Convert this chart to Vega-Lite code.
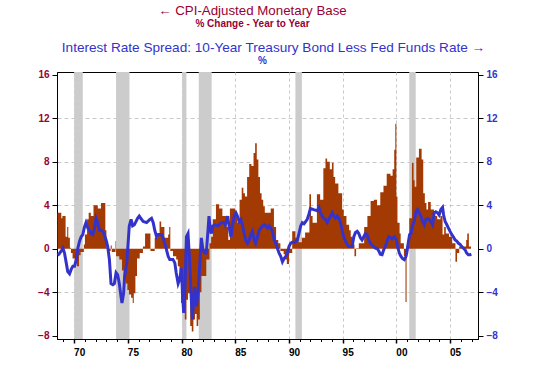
{
  "$schema": "https://vega.github.io/schema/vega-lite/v6.json",
  "autosize": "none",
  "width": 421,
  "height": 267,
  "padding": {"left": 57, "top": 72, "right": 57, "bottom": 32},
  "background": "white",
  "config": {
    "font": "Liberation Sans",
    "view": {"stroke": "black", "strokeWidth": 1},
    "axis": {"domainColor": "black", "tickColor": "black", "labelFont": "Liberation Sans", "titleFont": "Liberation Sans"}
  },
  "title": {
    "text": "← CPI-Adjusted Monetary Base",
    "subtitle": "% Change - Year to Year",
    "anchor": "middle",
    "frame": "group",
    "dx": -15,
    "offset": 11,
    "font": "Liberation Sans",
    "fontSize": 13.3,
    "fontWeight": "normal",
    "color": "#990033",
    "subtitleFont": "Liberation Sans",
    "subtitleFontSize": 10,
    "subtitleFontWeight": "bold",
    "subtitleColor": "#990033",
    "subtitlePadding": 2
  },
  "datasets": {
    "recessions": [
      {"s": 1970.0, "e": 1970.8},
      {"s": 1973.9, "e": 1975.15},
      {"s": 1980.05, "e": 1980.45},
      {"s": 1981.6, "e": 1982.8},
      {"s": 1990.6, "e": 1991.2},
      {"s": 2001.2, "e": 2001.8}
    ],
    "base": [
      {"s": 1968.45, "e": 1968.8, "v": 3.3},
      {"s": 1968.8, "e": 1968.9, "v": 2.8},
      {"s": 1968.9, "e": 1969.2, "v": 3.0},
      {"s": 1969.2, "e": 1969.35, "v": 1.1},
      {"s": 1969.35, "e": 1969.45, "v": 2.0},
      {"s": 1969.45, "e": 1969.6, "v": 1.0},
      {"s": 1969.6, "e": 1969.7, "v": 0.1},
      {"s": 1969.7, "e": 1969.85, "v": -0.4},
      {"s": 1969.85, "e": 1970.1, "v": -0.9},
      {"s": 1970.1, "e": 1970.25, "v": -1.2},
      {"s": 1970.25, "e": 1970.45, "v": -1.6},
      {"s": 1970.45, "e": 1970.6, "v": -0.6},
      {"s": 1970.6, "e": 1970.9, "v": -0.3},
      {"s": 1970.9, "e": 1971.0, "v": 0.4},
      {"s": 1971.0, "e": 1971.2, "v": 1.3},
      {"s": 1971.2, "e": 1971.35, "v": 2.7},
      {"s": 1971.35, "e": 1971.55, "v": 3.3},
      {"s": 1971.55, "e": 1971.8, "v": 3.0},
      {"s": 1971.8, "e": 1972.2, "v": 4.0},
      {"s": 1972.2, "e": 1972.5, "v": 3.7},
      {"s": 1972.5, "e": 1972.9, "v": 4.2},
      {"s": 1972.9, "e": 1973.0, "v": 1.7},
      {"s": 1973.0, "e": 1973.2, "v": 0.1},
      {"s": 1973.2, "e": 1973.4, "v": -0.2},
      {"s": 1973.4, "e": 1973.5, "v": 0.3},
      {"s": 1973.5, "e": 1973.85, "v": -0.3},
      {"s": 1973.85, "e": 1973.9, "v": 0.7},
      {"s": 1973.9, "e": 1974.2, "v": -0.7},
      {"s": 1974.2, "e": 1974.45, "v": -1.0},
      {"s": 1974.45, "e": 1974.6, "v": -2.0},
      {"s": 1974.6, "e": 1974.8, "v": -2.6},
      {"s": 1974.8, "e": 1974.95, "v": -3.2},
      {"s": 1974.95, "e": 1975.1, "v": -3.8},
      {"s": 1975.1, "e": 1975.3, "v": -4.2},
      {"s": 1975.3, "e": 1975.45, "v": -4.5},
      {"s": 1975.45, "e": 1975.55, "v": -5.0},
      {"s": 1975.55, "e": 1975.7, "v": -4.1},
      {"s": 1975.7, "e": 1975.85, "v": -2.5},
      {"s": 1975.85, "e": 1976.1, "v": -0.9},
      {"s": 1976.1, "e": 1976.4, "v": -0.4},
      {"s": 1976.4, "e": 1976.6, "v": 0.2},
      {"s": 1976.6, "e": 1977.1, "v": 1.4},
      {"s": 1977.1, "e": 1977.5, "v": -0.2},
      {"s": 1977.5, "e": 1977.8, "v": 1.0},
      {"s": 1977.8, "e": 1977.95, "v": 1.3},
      {"s": 1977.95, "e": 1978.1, "v": 2.5},
      {"s": 1978.1, "e": 1978.4, "v": 2.0},
      {"s": 1978.4, "e": 1978.75, "v": 1.0},
      {"s": 1978.75, "e": 1978.85, "v": 1.3},
      {"s": 1978.85, "e": 1978.95, "v": 2.0},
      {"s": 1978.95, "e": 1979.2, "v": -0.2},
      {"s": 1979.2, "e": 1979.5, "v": -0.7},
      {"s": 1979.5, "e": 1979.65, "v": -1.0},
      {"s": 1979.65, "e": 1979.8, "v": -1.6},
      {"s": 1979.8, "e": 1979.95, "v": -2.5},
      {"s": 1979.95, "e": 1980.1, "v": -5.0},
      {"s": 1980.1, "e": 1980.3, "v": -5.8},
      {"s": 1980.3, "e": 1980.45, "v": -6.5},
      {"s": 1980.45, "e": 1980.6, "v": -4.7},
      {"s": 1980.6, "e": 1980.8, "v": -4.1},
      {"s": 1980.8, "e": 1980.95, "v": -7.1},
      {"s": 1980.95, "e": 1981.1, "v": -7.6},
      {"s": 1981.1, "e": 1981.25, "v": -6.5},
      {"s": 1981.25, "e": 1981.4, "v": -6.0},
      {"s": 1981.4, "e": 1981.55, "v": -7.1},
      {"s": 1981.55, "e": 1981.7, "v": -6.5},
      {"s": 1981.7, "e": 1981.85, "v": -4.0},
      {"s": 1981.85, "e": 1982.3, "v": -2.5},
      {"s": 1982.3, "e": 1982.6, "v": -1.0},
      {"s": 1982.6, "e": 1982.75, "v": 0.5},
      {"s": 1982.75, "e": 1982.9, "v": 1.1},
      {"s": 1982.9, "e": 1983.2, "v": 2.7},
      {"s": 1983.2, "e": 1983.5, "v": 4.1},
      {"s": 1983.5, "e": 1983.8, "v": 3.7},
      {"s": 1983.8, "e": 1984.2, "v": 3.0},
      {"s": 1984.2, "e": 1984.35, "v": 2.0},
      {"s": 1984.35, "e": 1984.5, "v": 0.8},
      {"s": 1984.5, "e": 1985.0, "v": 3.7},
      {"s": 1985.0, "e": 1985.2, "v": 3.0},
      {"s": 1985.2, "e": 1985.4, "v": 2.4},
      {"s": 1985.4, "e": 1985.6, "v": 4.5},
      {"s": 1985.6, "e": 1985.75, "v": 5.6},
      {"s": 1985.75, "e": 1985.9, "v": 5.1},
      {"s": 1985.9, "e": 1986.1, "v": 4.8},
      {"s": 1986.1, "e": 1986.3, "v": 6.6},
      {"s": 1986.3, "e": 1986.5, "v": 7.8},
      {"s": 1986.5, "e": 1986.7, "v": 7.6},
      {"s": 1986.7, "e": 1986.85, "v": 8.8},
      {"s": 1986.85, "e": 1987.0, "v": 9.7},
      {"s": 1987.0, "e": 1987.15, "v": 8.2},
      {"s": 1987.15, "e": 1987.3, "v": 6.6},
      {"s": 1987.3, "e": 1987.45, "v": 5.1},
      {"s": 1987.45, "e": 1987.6, "v": 4.5},
      {"s": 1987.6, "e": 1987.75, "v": 3.9},
      {"s": 1987.75, "e": 1988.3, "v": 3.3},
      {"s": 1988.3, "e": 1988.6, "v": 3.7},
      {"s": 1988.6, "e": 1988.8, "v": 2.0},
      {"s": 1988.8, "e": 1989.0, "v": 0.8},
      {"s": 1989.0, "e": 1989.2, "v": 0.5},
      {"s": 1989.2, "e": 1989.5, "v": -0.2},
      {"s": 1989.5, "e": 1989.65, "v": -0.5},
      {"s": 1989.65, "e": 1989.8, "v": -1.0},
      {"s": 1989.8, "e": 1990.0, "v": -1.4},
      {"s": 1990.0, "e": 1990.3, "v": -0.4},
      {"s": 1990.3, "e": 1990.6, "v": 1.6},
      {"s": 1990.6, "e": 1990.9, "v": 1.0},
      {"s": 1990.9, "e": 1991.2, "v": 0.6},
      {"s": 1991.2, "e": 1991.5, "v": 1.0},
      {"s": 1991.5, "e": 1991.9, "v": 1.5},
      {"s": 1991.9, "e": 1992.05, "v": 5.0},
      {"s": 1992.05, "e": 1992.2, "v": 3.0},
      {"s": 1992.2, "e": 1992.6, "v": 2.4},
      {"s": 1992.6, "e": 1992.9, "v": 5.0},
      {"s": 1992.9, "e": 1993.2, "v": 4.5},
      {"s": 1993.2, "e": 1993.4, "v": 7.4},
      {"s": 1993.4, "e": 1993.55, "v": 8.3},
      {"s": 1993.55, "e": 1993.8, "v": 8.0},
      {"s": 1993.8, "e": 1994.0, "v": 7.3},
      {"s": 1994.0, "e": 1994.15, "v": 7.9},
      {"s": 1994.15, "e": 1994.3, "v": 6.6},
      {"s": 1994.3, "e": 1994.6, "v": 6.0},
      {"s": 1994.6, "e": 1994.95, "v": 5.1},
      {"s": 1994.95, "e": 1995.1, "v": 3.6},
      {"s": 1995.1, "e": 1995.35, "v": 3.0},
      {"s": 1995.35, "e": 1995.6, "v": 2.2},
      {"s": 1995.6, "e": 1995.75, "v": 1.7},
      {"s": 1995.75, "e": 1995.9, "v": 1.1},
      {"s": 1995.9, "e": 1996.1, "v": 0.4},
      {"s": 1996.1, "e": 1996.25, "v": -0.7},
      {"s": 1996.25, "e": 1996.5, "v": 0.05},
      {"s": 1996.5, "e": 1997.0, "v": 0.5},
      {"s": 1997.0, "e": 1997.3, "v": 2.0},
      {"s": 1997.3, "e": 1997.6, "v": 3.0},
      {"s": 1997.6, "e": 1997.9, "v": 4.4},
      {"s": 1997.9, "e": 1998.2, "v": 4.5},
      {"s": 1998.2, "e": 1998.5, "v": 4.0},
      {"s": 1998.5, "e": 1998.8, "v": 5.2},
      {"s": 1998.8, "e": 1999.1, "v": 5.8},
      {"s": 1999.1, "e": 1999.45, "v": 6.9},
      {"s": 1999.45, "e": 1999.65, "v": 6.7},
      {"s": 1999.65, "e": 1999.8, "v": 7.3},
      {"s": 1999.8, "e": 1999.9, "v": 9.1},
      {"s": 1999.9, "e": 2000.0, "v": 11.5},
      {"s": 2000.0, "e": 2000.1, "v": 4.8},
      {"s": 2000.1, "e": 2000.3, "v": 2.4},
      {"s": 2000.3, "e": 2000.4, "v": 1.4},
      {"s": 2000.4, "e": 2000.7, "v": 0.5},
      {"s": 2000.7, "e": 2000.85, "v": -0.7},
      {"s": 2000.85, "e": 2000.95, "v": -4.9},
      {"s": 2000.95, "e": 2001.2, "v": 0.3},
      {"s": 2001.2, "e": 2001.45, "v": 2.8},
      {"s": 2001.45, "e": 2001.6, "v": 7.9},
      {"s": 2001.6, "e": 2001.7, "v": 6.3},
      {"s": 2001.7, "e": 2001.85, "v": 5.7},
      {"s": 2001.85, "e": 2002.1, "v": 8.4},
      {"s": 2002.1, "e": 2002.35, "v": 9.2},
      {"s": 2002.35, "e": 2002.5, "v": 8.2},
      {"s": 2002.5, "e": 2002.65, "v": 5.1},
      {"s": 2002.65, "e": 2002.8, "v": 4.2},
      {"s": 2002.8, "e": 2002.95, "v": 3.6},
      {"s": 2002.95, "e": 2003.2, "v": 4.3},
      {"s": 2003.2, "e": 2003.5, "v": 3.6},
      {"s": 2003.5, "e": 2003.8, "v": 3.0},
      {"s": 2003.8, "e": 2004.1, "v": 2.7},
      {"s": 2004.1, "e": 2004.3, "v": 3.0},
      {"s": 2004.3, "e": 2004.45, "v": 1.3},
      {"s": 2004.45, "e": 2004.6, "v": 2.0},
      {"s": 2004.6, "e": 2004.9, "v": 1.4},
      {"s": 2004.9, "e": 2005.2, "v": 1.1},
      {"s": 2005.2, "e": 2005.5, "v": 0.5},
      {"s": 2005.5, "e": 2005.65, "v": -1.2},
      {"s": 2005.65, "e": 2005.85, "v": -0.4},
      {"s": 2005.85, "e": 2006.5, "v": 0.2},
      {"s": 2006.5, "e": 2006.6, "v": 0.8},
      {"s": 2006.6, "e": 2006.75, "v": 1.4},
      {"s": 2006.75, "e": 2006.95, "v": 0.2}
    ],
    "spread": [
      {"t": 1968.45, "r": -0.6}, {"t": 1968.58, "r": -0.5}, {"t": 1968.8, "r": -0.2}, {"t": 1968.95, "r": 0.05},
      {"t": 1969.1, "r": -0.4}, {"t": 1969.26, "r": -1.3}, {"t": 1969.4, "r": -2.1}, {"t": 1969.57, "r": -2.3},
      {"t": 1969.72, "r": -1.9}, {"t": 1969.88, "r": -1.6}, {"t": 1970.03, "r": -1.6}, {"t": 1970.2, "r": -1.0},
      {"t": 1970.34, "r": 0.05}, {"t": 1970.5, "r": 0.7}, {"t": 1970.65, "r": 1.1}, {"t": 1970.8, "r": 1.3},
      {"t": 1970.96, "r": 2.0}, {"t": 1971.1, "r": 2.4}, {"t": 1971.27, "r": 1.9}, {"t": 1971.42, "r": 1.7},
      {"t": 1971.58, "r": 1.4}, {"t": 1971.73, "r": 1.3}, {"t": 1971.9, "r": 1.9}, {"t": 1972.04, "r": 2.8},
      {"t": 1972.2, "r": 2.4}, {"t": 1972.35, "r": 1.7}, {"t": 1972.5, "r": 1.7}, {"t": 1972.66, "r": 1.6},
      {"t": 1972.8, "r": 1.3}, {"t": 1972.97, "r": 0.8}, {"t": 1973.12, "r": 0.2}, {"t": 1973.28, "r": -1.0},
      {"t": 1973.43, "r": -3.2}, {"t": 1973.6, "r": -3.3}, {"t": 1973.74, "r": -3.2}, {"t": 1973.9, "r": -2.2},
      {"t": 1974.05, "r": -2.4}, {"t": 1974.2, "r": -3.2}, {"t": 1974.36, "r": -4.4}, {"t": 1974.45, "r": -5.0},
      {"t": 1974.6, "r": -4.1}, {"t": 1974.7, "r": -2.5}, {"t": 1974.9, "r": -1.3}, {"t": 1975.0, "r": 0.2},
      {"t": 1975.13, "r": 2.1}, {"t": 1975.3, "r": 2.7}, {"t": 1975.44, "r": 2.1}, {"t": 1975.6, "r": 2.2},
      {"t": 1975.75, "r": 2.5}, {"t": 1975.9, "r": 2.8}, {"t": 1976.06, "r": 3.0}, {"t": 1976.2, "r": 2.8},
      {"t": 1976.43, "r": 2.5}, {"t": 1976.74, "r": 2.4}, {"t": 1977.05, "r": 2.7}, {"t": 1977.2, "r": 2.8},
      {"t": 1977.36, "r": 2.4}, {"t": 1977.5, "r": 1.7}, {"t": 1977.67, "r": 1.1}, {"t": 1977.82, "r": 1.3},
      {"t": 1978.13, "r": 1.3}, {"t": 1978.28, "r": 1.0}, {"t": 1978.44, "r": 0.5}, {"t": 1978.6, "r": -0.1},
      {"t": 1978.75, "r": -0.7}, {"t": 1978.9, "r": -1.0}, {"t": 1979.2, "r": -1.0}, {"t": 1979.37, "r": -1.3},
      {"t": 1979.5, "r": -2.2}, {"t": 1979.68, "r": -3.2}, {"t": 1979.83, "r": -2.8}, {"t": 1979.99, "r": -1.8},
      {"t": 1980.08, "r": -4.1}, {"t": 1980.2, "r": -5.9}, {"t": 1980.33, "r": -3.2}, {"t": 1980.45, "r": 1.1},
      {"t": 1980.6, "r": 1.4}, {"t": 1980.76, "r": -1.3}, {"t": 1980.91, "r": -4.7}, {"t": 1981.0, "r": -6.5},
      {"t": 1981.13, "r": -4.7}, {"t": 1981.22, "r": -3.5}, {"t": 1981.38, "r": -5.3}, {"t": 1981.53, "r": -4.1},
      {"t": 1981.7, "r": -1.3}, {"t": 1981.84, "r": 1.0}, {"t": 1981.99, "r": -0.1}, {"t": 1982.15, "r": -0.4},
      {"t": 1982.3, "r": -0.4}, {"t": 1982.46, "r": 1.7}, {"t": 1982.55, "r": 3.0}, {"t": 1982.68, "r": 1.7},
      {"t": 1982.77, "r": 1.4}, {"t": 1982.92, "r": 2.1}, {"t": 1983.08, "r": 2.2}, {"t": 1983.39, "r": 2.1},
      {"t": 1983.7, "r": 2.4}, {"t": 1984.0, "r": 2.4}, {"t": 1984.07, "r": 2.2}, {"t": 1984.3, "r": 3.0},
      {"t": 1984.44, "r": 1.9}, {"t": 1984.6, "r": 1.1}, {"t": 1984.75, "r": 2.2}, {"t": 1984.9, "r": 3.0},
      {"t": 1985.06, "r": 3.3}, {"t": 1985.2, "r": 3.0}, {"t": 1985.37, "r": 2.5}, {"t": 1985.52, "r": 2.7},
      {"t": 1985.68, "r": 2.1}, {"t": 1985.83, "r": 1.4}, {"t": 1986.0, "r": 0.7}, {"t": 1986.14, "r": 0.5},
      {"t": 1986.3, "r": 0.8}, {"t": 1986.45, "r": 1.3}, {"t": 1986.6, "r": 1.6}, {"t": 1986.76, "r": 0.8},
      {"t": 1986.9, "r": 0.5}, {"t": 1987.07, "r": 1.1}, {"t": 1987.2, "r": 1.6}, {"t": 1987.38, "r": 1.9},
      {"t": 1987.53, "r": 2.1}, {"t": 1987.69, "r": 2.2}, {"t": 1987.84, "r": 2.1}, {"t": 1988.0, "r": 1.9},
      {"t": 1988.15, "r": 2.1}, {"t": 1988.3, "r": 1.9}, {"t": 1988.46, "r": 1.6}, {"t": 1988.62, "r": 0.8},
      {"t": 1988.77, "r": 0.5}, {"t": 1988.92, "r": 0.05}, {"t": 1989.08, "r": -0.4}, {"t": 1989.23, "r": -0.7},
      {"t": 1989.39, "r": -1.2}, {"t": 1989.54, "r": -0.9}, {"t": 1989.7, "r": -0.7}, {"t": 1989.85, "r": -0.4},
      {"t": 1990.0, "r": 0.2}, {"t": 1990.16, "r": 0.5}, {"t": 1990.3, "r": 0.6}, {"t": 1990.56, "r": 0.6},
      {"t": 1990.78, "r": 0.8}, {"t": 1990.93, "r": 1.4}, {"t": 1991.09, "r": 2.1}, {"t": 1991.24, "r": 2.4},
      {"t": 1991.4, "r": 2.3}, {"t": 1991.55, "r": 2.5}, {"t": 1991.7, "r": 2.7}, {"t": 1991.86, "r": 3.2},
      {"t": 1992.0, "r": 3.7}, {"t": 1992.3, "r": 3.6}, {"t": 1992.63, "r": 3.5}, {"t": 1992.79, "r": 3.8},
      {"t": 1992.94, "r": 3.3}, {"t": 1993.1, "r": 3.0}, {"t": 1993.25, "r": 2.8}, {"t": 1993.4, "r": 2.7},
      {"t": 1993.56, "r": 2.4}, {"t": 1993.72, "r": 2.7}, {"t": 1993.87, "r": 3.0}, {"t": 1994.03, "r": 3.3},
      {"t": 1994.18, "r": 3.0}, {"t": 1994.34, "r": 2.8}, {"t": 1994.49, "r": 3.0}, {"t": 1994.64, "r": 2.8},
      {"t": 1994.8, "r": 2.4}, {"t": 1994.95, "r": 1.7}, {"t": 1995.1, "r": 1.1}, {"t": 1995.26, "r": 0.7},
      {"t": 1995.42, "r": 0.4}, {"t": 1995.57, "r": 0.2}, {"t": 1995.73, "r": 0.2}, {"t": 1995.88, "r": 0.2},
      {"t": 1996.04, "r": 1.1}, {"t": 1996.19, "r": 1.5}, {"t": 1996.35, "r": 1.6}, {"t": 1996.5, "r": 1.4},
      {"t": 1996.65, "r": 1.0}, {"t": 1996.8, "r": 0.8}, {"t": 1996.96, "r": 1.1}, {"t": 1997.12, "r": 1.4},
      {"t": 1997.27, "r": 1.3}, {"t": 1997.43, "r": 0.8}, {"t": 1997.58, "r": 0.5}, {"t": 1997.74, "r": 0.3},
      {"t": 1997.89, "r": 0.2}, {"t": 1998.05, "r": 0.05}, {"t": 1998.2, "r": 0.05}, {"t": 1998.36, "r": -0.2},
      {"t": 1998.5, "r": -0.5}, {"t": 1998.67, "r": -0.55}, {"t": 1998.82, "r": -0.1}, {"t": 1998.97, "r": 0.2},
      {"t": 1999.13, "r": 0.7}, {"t": 1999.28, "r": 1.1}, {"t": 1999.44, "r": 1.0}, {"t": 1999.6, "r": 0.9},
      {"t": 1999.81, "r": 1.1}, {"t": 2000.0, "r": 0.8}, {"t": 2000.12, "r": 0.2}, {"t": 2000.27, "r": -0.4},
      {"t": 2000.43, "r": -0.7}, {"t": 2000.58, "r": -0.9}, {"t": 2000.74, "r": -1.0}, {"t": 2000.9, "r": -0.7},
      {"t": 2001.0, "r": -0.2}, {"t": 2001.1, "r": 0.5}, {"t": 2001.23, "r": 1.3}, {"t": 2001.36, "r": 1.4},
      {"t": 2001.5, "r": 2.1}, {"t": 2001.66, "r": 2.5}, {"t": 2001.82, "r": 3.4}, {"t": 2001.97, "r": 3.6},
      {"t": 2002.13, "r": 3.3}, {"t": 2002.28, "r": 3.0}, {"t": 2002.44, "r": 2.5}, {"t": 2002.6, "r": 2.2},
      {"t": 2002.75, "r": 2.7}, {"t": 2002.9, "r": 2.8}, {"t": 2003.06, "r": 2.7}, {"t": 2003.2, "r": 2.5},
      {"t": 2003.37, "r": 2.2}, {"t": 2003.52, "r": 3.3}, {"t": 2003.67, "r": 3.4}, {"t": 2003.83, "r": 3.3},
      {"t": 2003.98, "r": 3.1}, {"t": 2004.14, "r": 3.6}, {"t": 2004.3, "r": 3.8}, {"t": 2004.4, "r": 3.1},
      {"t": 2004.54, "r": 2.5}, {"t": 2004.7, "r": 2.2}, {"t": 2004.85, "r": 1.9}, {"t": 2005.0, "r": 1.6},
      {"t": 2005.16, "r": 1.3}, {"t": 2005.3, "r": 1.1}, {"t": 2005.47, "r": 0.8}, {"t": 2005.62, "r": 0.7},
      {"t": 2005.78, "r": 0.5}, {"t": 2005.93, "r": 0.4}, {"t": 2006.09, "r": 0.2}, {"t": 2006.24, "r": 0.05},
      {"t": 2006.4, "r": -0.1}, {"t": 2006.55, "r": -0.4}, {"t": 2006.7, "r": -0.55}, {"t": 2006.86, "r": -0.55},
      {"t": 2006.98, "r": -0.5}
    ]
  },
  "resolve": {"axis": {"x": "independent", "y": "independent"}},
  "layer": [
    {
      "data": {"name": "recessions"},
      "mark": {"type": "rect", "color": "#CCCCCC"},
      "encoding": {
        "x": {"field": "s", "type": "quantitative", "axis": null, "scale": {"domain": [1968.4, 2007.6], "nice": false, "zero": false}},
        "x2": {"field": "e"}
      }
    },
    {
      "data": {"name": "base"},
      "transform": [
        {"window": [{"op": "row_number", "as": "idx"}]},
        {"fold": ["s", "e"], "as": ["edge", "yr"]}
      ],
      "mark": {"type": "area", "color": "#A33A04", "interpolate": "linear", "opacity": 1},
      "encoding": {
        "x": {
          "field": "yr", "type": "quantitative",
          "scale": {"domain": [1968.4, 2007.6], "nice": false, "zero": false},
          "axis": {
            "orient": "bottom", "title": null,
            "values": [1970, 1975, 1980, 1985, 1990, 1995, 2000, 2005],
            "labelExpr": "substring(toString(datum.value), 2, 4)",
            "labelFont": "Liberation Sans", "labelFontSize": 10, "labelFontWeight": "bold", "labelColor": "black",
            "labelOffset": 5, "labelPadding": 4,
            "tickSize": 4, "tickWidth": 1.5, "tickColor": "black",
            "domain": true, "domainColor": "black",
            "grid": true, "gridDash": [3, 3], "gridColor": "#C8C8C8", "gridWidth": 1
          }
        },
        "y": {
          "field": "v", "type": "quantitative",
          "scale": {"domain": [-8.3, 16.25], "nice": false, "zero": false},
          "axis": {
            "orient": "left",
            "values": [-8, -4, 0, 4, 8, 12, 16],
            "labelFont": "Liberation Sans", "labelFontSize": 10, "labelFontWeight": "bold", "labelColor": "#990033",
            "labelPadding": 3, "tickSize": 5, "tickColor": "black",
            "domainColor": "black",
            "grid": true, "gridDash": [4, 3], "gridColor": "#C8C8C8",
            "gridOpacity": {"condition": {"test": "datum.value == 16 || datum.value == -8 || datum.value == 0", "value": 0}, "value": 1},
            "title": "%", "titleAngle": 0, "titleAlign": "center", "titleBaseline": "alphabetic",
            "titleX": 205, "titleY": -9,
            "titleFont": "Liberation Sans", "titleFontSize": 10, "titleFontWeight": "bold", "titleColor": "#3333CC"
          }
        },
        "y2": {"datum": 0},
        "order": [{"field": "idx", "type": "quantitative"}, {"field": "edge", "type": "nominal", "sort": "descending"}]
      }
    },
    {
      "mark": {"type": "rule", "color": "#990033", "strokeWidth": 1.5},
      "encoding": {"y": {"datum": 0, "type": "quantitative", "axis": null}}
    },
    {
      "data": {"name": "spread"},
      "mark": {"type": "line", "color": "#3333CC", "strokeWidth": 3},
      "encoding": {
        "x": {
          "field": "t", "type": "quantitative",
          "scale": {"domain": [1968.4, 2007.6], "nice": false, "zero": false},
          "axis": {
            "orient": "bottom", "title": null,
            "values": [1969, 1971, 1972, 1973, 1974, 1976, 1977, 1978, 1979, 1981, 1982, 1983, 1984, 1986, 1987, 1988, 1989, 1991, 1992, 1993, 1994, 1996, 1997, 1998, 1999, 2001, 2002, 2003, 2004, 2006, 2007],
            "labels": false, "domain": false, "grid": false,
            "tickSize": 2.5, "tickColor": "black", "tickWidth": 1
          }
        },
        "y": {
          "field": "r", "type": "quantitative",
          "scale": {"domain": [-8.3, 16.25], "nice": false, "zero": false},
          "axis": {
            "orient": "right",
            "values": [-8, -4, 0, 4, 8, 12, 16],
            "labelFont": "Liberation Sans", "labelFontSize": 10, "labelFontWeight": "bold", "labelColor": "#3333CC",
            "labelPadding": 3, "tickSize": 5, "tickColor": "black", "domainColor": "black",
            "grid": false,
            "title": "Interest Rate Spread: 10-Year Treasury Bond Less Fed Funds Rate →",
            "titleAngle": 0, "titleAlign": "center", "titleBaseline": "alphabetic",
            "titleX": -205, "titleY": -21,
            "titleFont": "Liberation Sans", "titleFontSize": 13.6, "titleFontWeight": "normal", "titleColor": "#3333CC"
          }
        }
      }
    }
  ]
}
